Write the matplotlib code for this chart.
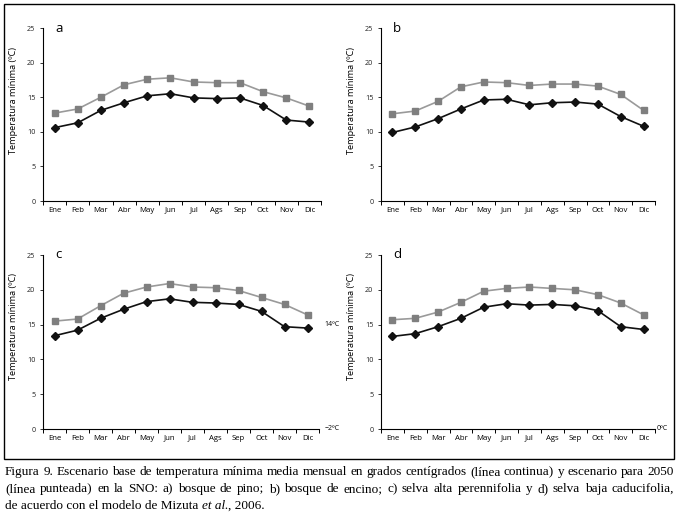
import matplotlib
matplotlib.use("Agg")
import matplotlib.pyplot as plt
from matplotlib.patches import Rectangle
import numpy as np

plt.rcParams['font.family'] = ['Open Sans', 'DejaVu Sans']

meses = ["Ene", "Feb", "Mar", "Abr", "May", "Jun", "Jul", "Ags", "Sep", "Oct", "Nov", "Dic"]

# escenario 2050 (gris) y escenario base (negro)
a_2050 = [12.7, 13.3, 15.0, 16.8, 17.6, 17.8, 17.2, 17.1, 17.1, 15.8, 14.9, 13.7]
a_base = [10.6, 11.3, 13.1, 14.2, 15.2, 15.5, 14.9, 14.8, 14.9, 13.8, 11.7, 11.4]
b_2050 = [12.6, 13.0, 14.4, 16.5, 17.2, 17.1, 16.7, 16.9, 16.9, 16.6, 15.4, 13.1]
b_base = [9.9, 10.7, 11.9, 13.3, 14.6, 14.7, 13.9, 14.2, 14.3, 14.0, 12.2, 10.8]
c_2050 = [15.5, 15.8, 17.7, 19.5, 20.4, 20.9, 20.4, 20.3, 19.9, 18.9, 17.9, 16.4]
c_base = [13.4, 14.2, 15.9, 17.2, 18.3, 18.7, 18.2, 18.1, 17.9, 16.9, 14.7, 14.5]
d_2050 = [15.7, 15.9, 16.8, 18.2, 19.8, 20.2, 20.4, 20.2, 20.0, 19.3, 18.1, 16.4]
d_base = [13.3, 13.7, 14.7, 15.9, 17.5, 18.0, 17.8, 17.9, 17.7, 17.0, 14.7, 14.3]

W, H = 681, 516
fig = plt.figure(figsize=(W / 100, H / 100), dpi=100)

def px(l, t, r, b):
    return [l / W, (H - b) / H, (r - l) / W, (b - t) / H]

paneles = [
    ("a", a_2050, a_base, px(43, 28, 321, 201), 14, 100),
    ("b", b_2050, b_base, px(381, 28, 655, 201), 352, 100),
    ("c", c_2050, c_base, px(43, 255, 319, 429), 14, 327),
    ("d", d_2050, d_base, px(381, 255, 655, 429), 352, 327),
]

x = np.arange(1, 13)
axes = {}
for letra, gris, negro, pos, ylx, yly in paneles:
    ax = fig.add_axes(pos)
    ax.plot(x, gris, color="#9a9a9a", lw=1.2, marker="s", ms=4.5,
            mfc="#7f7f7f", mec="#7f7f7f", zorder=3)
    ax.plot(x, negro, color="#111111", lw=1.2, marker="D", ms=3.8,
            mfc="#111111", mec="#111111", zorder=4)
    ax.set_xlim(0.5, 12.5)
    ax.set_ylim(0, 25)
    ax.set_xticks(x)
    ax.set_xticklabels(meses, fontsize=5.6)
    ax.set_xticks(np.arange(0.5, 13, 1), minor=True)
    ax.tick_params(axis="x", which="major", length=0, pad=4)
    ax.tick_params(axis="x", which="minor", length=3, width=0.7, direction="out")
    ax.set_yticks([0, 5, 10, 15, 20, 25])
    ax.tick_params(axis="y", length=2.5, width=0.7, labelsize=5.2, pad=3, colors="#333333")
    ax.tick_params(axis="y", labelcolor="#222222")
    for s in ["top", "right"]:
        ax.spines[s].set_visible(False)
    for s in ["left", "bottom"]:
        ax.spines[s].set_linewidth(0.8)
    ax.text(0.045, 1.0, letra, transform=ax.transAxes, fontsize=9.5,
            ha="left", va="center")
    fig.text(ylx / W, (H - yly) / H, "Temperatura mínima (ºC)", rotation=90,
             fontsize=6.6, ha="center", va="center")
    axes[letra] = ax

# anotaciones a la derecha
axes["c"].text(1.02, 15, "14ºC", transform=axes["c"].get_yaxis_transform(),
               fontsize=5, ha="left", va="center")
axes["c"].text(1.02, 0, "\u22122ºC", transform=axes["c"].get_yaxis_transform(),
               fontsize=5, ha="left", va="center")
axes["d"].text(1.005, 0, "0ºC", transform=axes["d"].get_yaxis_transform(),
               fontsize=5, ha="left", va="center")

# marco
fig.patches.append(Rectangle((4 / W, (H - 459) / H), 670 / W, 455 / H,
                             transform=fig.transFigure, fill=False,
                             edgecolor="black", lw=1.0))

# pie de figura
serif = "Liberation Serif"
linea1 = ("Figura 9. Escenario base de temperatura mínima media mensual en grados centígrados "
          "(línea continua) y escenario para 2050")
linea2 = ("(línea punteada) en la SNO: a) bosque de pino; b) bosque de encino; c) selva alta "
          "perennifolia y d) selva baja caducifolia,")
ys = [472, 489, 506]
r = fig.canvas.get_renderer()
x0, x1 = 5, 674

# ajustar tamaño para que las líneas ocupen el ancho del marco
fs = 10.0
prueba = [fig.text(0, 0, s, family=serif, fontsize=fs) for s in (linea1, linea2)]
ancho = max(t.get_window_extent(r).width for t in prueba)
for t in prueba:
    t.remove()
fs = fs * (x1 - x0 - 2) / ancho

def justificar(linea, y):
    palabras = linea.split(" ")
    tx = [fig.text(0, (H - y) / H, p, family=serif, fontsize=fs, va="center")
          for p in palabras]
    anchos = [t.get_window_extent(r).width for t in tx]
    hueco = (x1 - x0 - sum(anchos)) / (len(palabras) - 1)
    pos = x0
    for t, w in zip(tx, anchos):
        t.set_x(pos / W)
        pos += w + hueco

justificar(linea1, ys[0])
justificar(linea2, ys[1])

t1 = fig.text(x0 / W, (H - ys[2]) / H, "de acuerdo con el modelo de Mizuta ",
              family=serif, fontsize=fs, va="center")
bb = t1.get_window_extent(r)
t2 = fig.text(bb.x1 / W, (H - ys[2]) / H, "et al.", family=serif, style="italic",
              fontsize=fs, va="center")
bb2 = t2.get_window_extent(r)
fig.text(bb2.x1 / W, (H - ys[2]) / H, ", 2006.", family=serif, fontsize=fs, va="center")

fig.savefig("out.png", dpi=100)
